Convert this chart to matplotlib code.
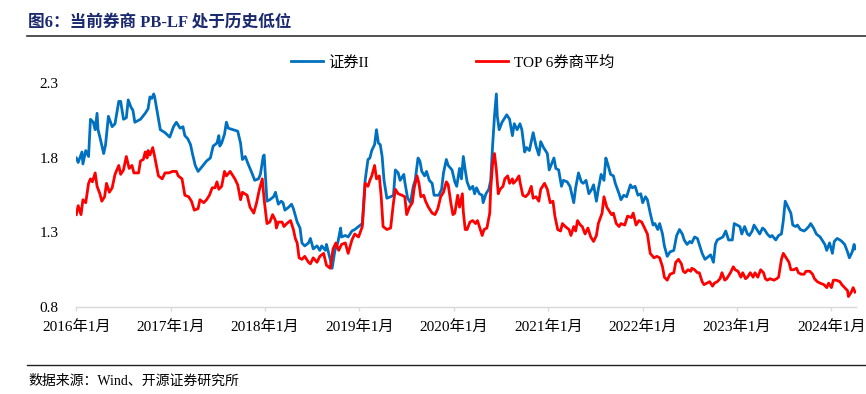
import matplotlib
matplotlib.use("Agg")
import matplotlib.pyplot as plt
from matplotlib.lines import Line2D

plt.rcParams['font.family'] = ['Liberation Serif', 'Noto Sans CJK SC', 'DejaVu Sans']

title = "图6：当前券商 PB-LF 处于历史低位"
source = "数据来源：Wind、开源证券研究所"
series_names = ["证券II", "TOP 6券商平均"]
year_ticks = [2016, 2017, 2018, 2019, 2020, 2021, 2022, 2023, 2024]
year_labels = ["2016年1月", "2017年1月", "2018年1月", "2019年1月", "2020年1月",
               "2021年1月", "2022年1月", "2023年1月", "2024年1月"]
y_ticks = [0.8, 1.3, 1.8, 2.3]

# 证券II (time in decimal years, PB-LF values)
blue_t = [
    2016.00, 2016.02, 2016.06, 2016.07, 2016.10, 2016.13, 2016.15, 2016.18, 2016.20, 2016.22,
    2016.23, 2016.25, 2016.29, 2016.31, 2016.34, 2016.38, 2016.41, 2016.45, 2016.47, 2016.50,
    2016.53, 2016.55, 2016.58, 2016.60, 2016.62, 2016.68, 2016.73, 2016.76, 2016.78, 2016.80,
    2016.82, 2016.83, 2016.86, 2016.89, 2016.94, 2016.99,
    2017.03, 2017.06, 2017.08, 2017.10, 2017.13, 2017.15, 2017.18, 2017.21, 2017.23, 2017.26,
    2017.29, 2017.33, 2017.38, 2017.42, 2017.45, 2017.49, 2017.51, 2017.52, 2017.54, 2017.57,
    2017.59, 2017.61, 2017.66, 2017.71, 2017.74, 2017.76, 2017.79, 2017.82, 2017.86, 2017.89,
    2017.93, 2017.95, 2017.98, 2017.99,
    2018.02, 2018.05, 2018.09, 2018.11, 2018.14, 2018.17, 2018.19, 2018.21, 2018.25, 2018.28,
    2018.30, 2018.34, 2018.37, 2018.39, 2018.42, 2018.46, 2018.48, 2018.51, 2018.55, 2018.58,
    2018.60, 2018.64, 2018.65, 2018.69, 2018.71, 2018.74, 2018.77, 2018.80, 2018.81, 2018.85,
    2018.88, 2018.92, 2018.95, 2018.99,
    2019.03, 2019.06, 2019.09, 2019.11, 2019.13, 2019.16, 2019.18, 2019.20, 2019.22, 2019.24,
    2019.26, 2019.29, 2019.33, 2019.36, 2019.38, 2019.41, 2019.43, 2019.47, 2019.48, 2019.51,
    2019.54, 2019.57, 2019.59, 2019.62, 2019.64, 2019.66, 2019.69, 2019.71, 2019.74, 2019.77,
    2019.79, 2019.84, 2019.87, 2019.89, 2019.92, 2019.94, 2019.98,
    2020.01, 2020.03, 2020.06, 2020.08, 2020.10, 2020.12, 2020.14, 2020.17, 2020.20, 2020.22,
    2020.24, 2020.27, 2020.30, 2020.31, 2020.34, 2020.37, 2020.39, 2020.41, 2020.43, 2020.45,
    2020.46, 2020.48, 2020.51, 2020.53, 2020.56, 2020.59, 2020.62, 2020.64, 2020.67, 2020.70,
    2020.72, 2020.75, 2020.77, 2020.80, 2020.84, 2020.87, 2020.90, 2020.92, 2020.95, 2020.99,
    2021.01, 2021.06, 2021.08, 2021.11, 2021.14, 2021.16, 2021.20, 2021.23, 2021.27, 2021.29,
    2021.32, 2021.35, 2021.37, 2021.40, 2021.43, 2021.46, 2021.48, 2021.51, 2021.53, 2021.56,
    2021.59, 2021.61, 2021.63, 2021.66, 2021.69, 2021.71, 2021.75, 2021.77, 2021.80, 2021.83,
    2021.87, 2021.89, 2021.92, 2021.95, 2021.98,
    2022.00, 2022.03, 2022.05, 2022.08, 2022.11, 2022.13, 2022.16, 2022.18, 2022.21, 2022.23,
    2022.26, 2022.29, 2022.33, 2022.36, 2022.39, 2022.42, 2022.44, 2022.47, 2022.50, 2022.52,
    2022.55, 2022.58, 2022.60, 2022.63, 2022.66, 2022.70, 2022.72, 2022.75, 2022.77, 2022.79,
    2022.82, 2022.85, 2022.88, 2022.91, 2022.95, 2022.97,
    2023.00, 2023.03, 2023.05, 2023.08, 2023.11, 2023.13, 2023.16, 2023.18, 2023.21, 2023.24,
    2023.27, 2023.29, 2023.32, 2023.35, 2023.37, 2023.41, 2023.44, 2023.47, 2023.49, 2023.51,
    2023.54, 2023.57, 2023.59, 2023.62, 2023.64, 2023.67, 2023.71, 2023.73, 2023.76, 2023.78,
    2023.81, 2023.84, 2023.88, 2023.90, 2023.93, 2023.95, 2023.98,
    2024.01, 2024.03, 2024.06, 2024.09, 2024.11, 2024.14, 2024.17, 2024.19, 2024.22, 2024.24,
    2024.25,
]
blue_v = [
    1.80, 1.77, 1.84, 1.76, 1.85, 1.81, 2.06, 2.04, 1.99, 2.10,
    1.99, 1.94, 1.83, 1.89, 2.08, 2.01, 2.03, 2.18, 2.18, 2.06,
    2.07, 2.19, 2.14, 2.12, 2.04, 2.06, 2.10, 2.13, 2.21, 2.20,
    2.23, 2.21, 2.10, 1.99, 1.97, 1.94,
    2.01, 2.04, 2.02, 2.00, 2.01, 1.95, 1.93, 1.89, 1.83, 1.75,
    1.71, 1.74, 1.78, 1.80, 1.88, 1.90, 1.95, 1.88, 1.90, 1.96,
    2.04, 2.00, 1.99, 1.98, 1.90, 1.79, 1.81, 1.76, 1.70, 1.65,
    1.66, 1.69, 1.81, 1.82,
    1.51, 1.52, 1.54, 1.57, 1.49, 1.51, 1.50, 1.45, 1.47, 1.49,
    1.46, 1.37, 1.33, 1.23, 1.21, 1.23, 1.26, 1.19, 1.21, 1.18,
    1.21, 1.18, 1.22, 1.12, 1.06, 1.18, 1.23, 1.33, 1.27, 1.28,
    1.27, 1.31, 1.32, 1.34,
    1.36, 1.65, 1.79, 1.80, 1.85, 1.89, 1.99, 1.90, 1.89, 1.81,
    1.65, 1.53, 1.54, 1.55, 1.72, 1.70, 1.65, 1.69, 1.64, 1.53,
    1.50, 1.61, 1.65, 1.80, 1.78, 1.71, 1.68, 1.71, 1.65, 1.63,
    1.55, 1.55, 1.59, 1.70, 1.79, 1.75, 1.72,
    1.64, 1.61, 1.73, 1.66, 1.81, 1.72, 1.64, 1.59, 1.61, 1.56,
    1.60, 1.56, 1.55, 1.50, 1.56, 1.59, 1.65, 1.88, 2.08, 2.23,
    2.08, 1.99, 2.04, 2.06, 2.09, 2.06, 1.95, 2.03, 1.99, 2.03,
    1.99, 1.84, 1.87, 1.85, 1.97, 1.88, 1.82, 1.91, 1.87, 1.83,
    1.72, 1.80, 1.73, 1.72, 1.61, 1.65, 1.64, 1.61, 1.50, 1.60,
    1.70, 1.64, 1.63, 1.65, 1.56, 1.59, 1.62, 1.51, 1.59, 1.69,
    1.65, 1.80, 1.76, 1.69, 1.68, 1.63, 1.56, 1.52, 1.55, 1.54,
    1.62, 1.60, 1.61, 1.55, 1.56,
    1.50, 1.54, 1.52, 1.43, 1.35, 1.36, 1.32, 1.36, 1.29, 1.21,
    1.14, 1.17, 1.18, 1.28, 1.32, 1.29, 1.25, 1.22, 1.24, 1.23,
    1.27, 1.26, 1.22, 1.16, 1.12, 1.14, 1.15, 1.10, 1.22, 1.25,
    1.26, 1.27, 1.31, 1.25, 1.25, 1.36,
    1.35, 1.34, 1.29, 1.34, 1.29, 1.28, 1.31, 1.35, 1.32, 1.29,
    1.33, 1.32, 1.29, 1.27, 1.28, 1.25, 1.28, 1.29, 1.38, 1.51,
    1.47, 1.43, 1.35, 1.34, 1.35, 1.32, 1.31, 1.32, 1.34, 1.36,
    1.33, 1.29, 1.27, 1.25, 1.22, 1.18, 1.23,
    1.16, 1.24, 1.26, 1.25, 1.24, 1.22, 1.17, 1.13, 1.17, 1.22,
    1.19,
]

# TOP 6券商平均
red_t = [
    2016.00, 2016.02, 2016.05, 2016.07, 2016.10, 2016.13, 2016.15, 2016.17, 2016.20, 2016.22,
    2016.25, 2016.27, 2016.30, 2016.32, 2016.35, 2016.38, 2016.41, 2016.45, 2016.47, 2016.50,
    2016.53, 2016.56, 2016.59, 2016.61, 2016.66, 2016.68, 2016.71, 2016.73, 2016.75, 2016.76,
    2016.78, 2016.81, 2016.83, 2016.87, 2016.91, 2016.94, 2016.98,
    2017.02, 2017.06, 2017.08, 2017.12, 2017.15, 2017.19, 2017.22, 2017.25, 2017.29, 2017.31,
    2017.35, 2017.38, 2017.41, 2017.44, 2017.47, 2017.49, 2017.51, 2017.54, 2017.57, 2017.59,
    2017.63, 2017.65, 2017.68, 2017.71, 2017.74, 2017.76, 2017.81, 2017.84, 2017.88, 2017.91,
    2017.94, 2017.97, 2017.99,
    2018.02, 2018.05, 2018.08, 2018.11, 2018.12, 2018.14, 2018.18, 2018.20, 2018.23, 2018.27,
    2018.30, 2018.32, 2018.34, 2018.36, 2018.39, 2018.42, 2018.46, 2018.48, 2018.51, 2018.55,
    2018.58, 2018.62, 2018.65, 2018.69, 2018.72, 2018.75, 2018.78, 2018.81, 2018.85, 2018.88,
    2018.92, 2018.95, 2018.99,
    2019.03, 2019.06, 2019.09, 2019.11, 2019.13, 2019.16, 2019.18, 2019.21, 2019.23, 2019.25,
    2019.29, 2019.33, 2019.36, 2019.38, 2019.41, 2019.45, 2019.48, 2019.50, 2019.53, 2019.56,
    2019.58, 2019.61, 2019.63, 2019.65, 2019.68, 2019.70, 2019.73, 2019.77, 2019.80, 2019.83,
    2019.86, 2019.89, 2019.92, 2019.94, 2019.97, 2019.99,
    2020.01, 2020.04, 2020.06, 2020.09, 2020.10, 2020.12, 2020.14, 2020.17, 2020.20, 2020.23,
    2020.25, 2020.27, 2020.30, 2020.32, 2020.35, 2020.38, 2020.39, 2020.41, 2020.43, 2020.45,
    2020.47, 2020.49, 2020.52, 2020.54, 2020.57, 2020.59, 2020.62, 2020.63, 2020.66, 2020.69,
    2020.70, 2020.73, 2020.76, 2020.79, 2020.82, 2020.84, 2020.87, 2020.90, 2020.92, 2020.96,
    2020.99,
    2021.02, 2021.05, 2021.07, 2021.10, 2021.13, 2021.15, 2021.18, 2021.22, 2021.24, 2021.27,
    2021.29, 2021.31, 2021.34, 2021.36, 2021.39, 2021.42, 2021.45, 2021.48, 2021.51, 2021.53,
    2021.57, 2021.59, 2021.62, 2021.64, 2021.67, 2021.69, 2021.72, 2021.75, 2021.77, 2021.81,
    2021.84, 2021.88, 2021.90, 2021.93, 2021.96, 2021.99,
    2022.02, 2022.05, 2022.08, 2022.12, 2022.15, 2022.18, 2022.21, 2022.23, 2022.26, 2022.29,
    2022.33, 2022.35, 2022.38, 2022.41, 2022.43, 2022.45, 2022.48, 2022.51, 2022.52, 2022.55,
    2022.58, 2022.60, 2022.63, 2022.65, 2022.68, 2022.71, 2022.74, 2022.76, 2022.79, 2022.82,
    2022.84, 2022.87, 2022.89, 2022.93, 2022.96, 2022.98,
    2023.01, 2023.04, 2023.06, 2023.09, 2023.11, 2023.14, 2023.17, 2023.19, 2023.22, 2023.25,
    2023.28, 2023.30, 2023.32, 2023.35, 2023.39, 2023.42, 2023.44, 2023.47, 2023.49, 2023.52,
    2023.55, 2023.57, 2023.60, 2023.63, 2023.65, 2023.68, 2023.71, 2023.73, 2023.77, 2023.80,
    2023.82, 2023.85, 2023.88, 2023.92, 2023.95, 2023.97,
    2024.00, 2024.02, 2024.05, 2024.09, 2024.11, 2024.14, 2024.17, 2024.18, 2024.21, 2024.23,
    2024.25,
]
red_v = [
    1.42, 1.48, 1.42, 1.52, 1.50, 1.63, 1.66, 1.64, 1.70, 1.61,
    1.56, 1.51, 1.54, 1.63, 1.57, 1.60, 1.69, 1.75, 1.69, 1.72,
    1.81, 1.73, 1.75, 1.70, 1.70, 1.78, 1.79, 1.84, 1.80, 1.85,
    1.82, 1.87, 1.81, 1.68, 1.66, 1.70, 1.70,
    1.71, 1.71, 1.68, 1.66, 1.55, 1.54, 1.51, 1.45, 1.46, 1.52,
    1.50, 1.52, 1.55, 1.60, 1.60, 1.64, 1.59, 1.61, 1.71, 1.68,
    1.71, 1.69, 1.66, 1.62, 1.52, 1.57, 1.55, 1.47, 1.43, 1.50,
    1.59, 1.66, 1.52,
    1.36, 1.37, 1.42, 1.38, 1.33, 1.37, 1.37, 1.34, 1.36, 1.38,
    1.32, 1.26, 1.23, 1.13, 1.12, 1.14, 1.10, 1.09, 1.13, 1.10,
    1.14, 1.16, 1.08, 1.06, 1.19, 1.23, 1.18, 1.22, 1.23, 1.16,
    1.25, 1.29, 1.27,
    1.34, 1.63, 1.61, 1.65, 1.68, 1.75, 1.66, 1.68, 1.54, 1.34,
    1.32, 1.33, 1.50, 1.59, 1.56, 1.55, 1.54, 1.42, 1.47, 1.50,
    1.60, 1.68, 1.63, 1.54, 1.55, 1.51, 1.47, 1.43, 1.42, 1.46,
    1.54, 1.57, 1.64, 1.62, 1.49, 1.42,
    1.43, 1.55, 1.47, 1.56, 1.44, 1.32, 1.32, 1.37, 1.38, 1.36,
    1.38, 1.34, 1.28, 1.32, 1.33, 1.43, 1.59, 1.76, 1.83, 1.72,
    1.56, 1.59, 1.61, 1.66, 1.68, 1.63, 1.66, 1.63, 1.65, 1.68,
    1.64, 1.55, 1.54, 1.56, 1.61, 1.53, 1.54, 1.51, 1.59, 1.63,
    1.59,
    1.50, 1.51, 1.41, 1.32, 1.31, 1.36, 1.34, 1.32, 1.28, 1.34,
    1.31, 1.38, 1.35, 1.34, 1.29, 1.33, 1.27, 1.24, 1.28, 1.36,
    1.43, 1.54, 1.47, 1.45, 1.42, 1.43, 1.36, 1.34, 1.36, 1.35,
    1.41, 1.40, 1.43, 1.35, 1.38, 1.37,
    1.33, 1.29, 1.16, 1.13, 1.14, 1.13, 1.07, 1.00, 0.98, 1.02,
    1.03, 1.10, 1.12, 1.09, 1.04, 1.03, 1.05, 1.04, 1.06, 1.05,
    1.03, 1.03, 0.97, 0.95, 0.96, 0.97, 0.94, 0.96, 0.97, 0.99,
    1.03, 0.98, 0.99, 1.03, 1.07, 1.05,
    1.04, 1.00, 1.03, 0.99, 1.00, 1.03, 1.00, 1.03, 1.00, 1.05,
    1.03, 0.99, 0.98, 0.99, 0.98, 0.99, 1.00, 1.12, 1.16, 1.13,
    1.10, 1.05, 1.05, 1.06, 1.03, 1.02, 1.02, 1.04, 1.04, 1.02,
    0.99, 0.97, 0.96, 0.95, 0.93, 0.96,
    0.93, 0.98, 0.98, 0.97, 0.95, 0.93, 0.91, 0.87, 0.90, 0.93,
    0.90,
]

W, H = 866, 394
fig = plt.figure(figsize=(W / 100, H / 100), dpi=100)

ax_left, ax_right, ax_top, ax_bottom = 76.3, 856, 83.5, 307
ax = fig.add_axes([ax_left / W, (H - ax_bottom) / H,
                   (ax_right - ax_left) / W, (ax_bottom - ax_top) / H])

ax.plot(blue_t, blue_v, color='#0070C0', lw=2.0, label=series_names[0],
        solid_joinstyle='round')
ax.plot(red_t, red_v, color='#FF0000', lw=2.0, label=series_names[1],
        solid_joinstyle='round')

ax.set_xlim(2016.0, 2024.26)
ax.set_ylim(0.8, 2.3)
ax.set_yticks(y_ticks)
ax.set_yticklabels([f"{v:.1f}" for v in y_ticks])
ax.set_xticks(year_ticks)
ax.set_xticklabels(year_labels)

for s in ['top', 'right', 'left']:
    ax.spines[s].set_visible(False)
ax.spines['bottom'].set_color('#D9D9D9')
ax.spines['bottom'].set_linewidth(1.0)
ax.tick_params(axis='x', direction='out', length=3, width=1, color='#D9D9D9',
               pad=6, labelsize=11, labelcolor='black')
ax.tick_params(axis='y', length=0, pad=13, labelsize=11, labelcolor='black')
ax.patch.set_alpha(0)

fig.legend(loc='center', bbox_to_anchor=(452.5 / W, 1 - 62.3 / H), ncol=2,
           frameon=False, fontsize=11, handlelength=2.1, handletextpad=0.35,
           columnspacing=7.0)

fig.text(28 / W, 1 - 23 / H, title, fontsize=12, fontweight='bold',
         color='#1B2A6E', va='center', ha='left')
fig.add_artist(Line2D([27 / W, 1.0], [1 - 36 / H, 1 - 36 / H],
                      transform=fig.transFigure, color='#333333', lw=1.2))
fig.add_artist(Line2D([27 / W, 1.0], [1 - 365 / H, 1 - 365 / H],
                      transform=fig.transFigure, color='#222222', lw=1.0))
fig.text(28 / W, 1 - 381 / H, source, fontsize=10, color='black',
         va='center', ha='left')

fig.savefig('out.png', dpi=100)
